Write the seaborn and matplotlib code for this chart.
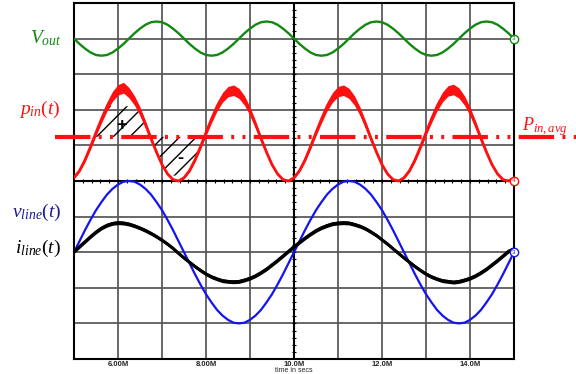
import numpy as np
import pandas as pd
import matplotlib
matplotlib.use('Agg')
import matplotlib.pyplot as plt
import seaborn as sns

sns.set_style('white')
plt.rcParams['font.family'] = ['Liberation Sans', 'DejaVu Sans']
plt.rcParams['mathtext.fontset'] = 'custom'
plt.rcParams['mathtext.rm'] = 'Liberation Serif'
plt.rcParams['mathtext.it'] = 'Liberation Serif:italic'
plt.rcParams['hatch.linewidth'] = 1.0

# ---------------- data (grid units, time in M) ----------------
time_M = np.linspace(5.0, 15.0, 81)

vout = [9.00, 8.85, 8.72, 8.61, 8.54, 8.52, 8.54, 8.61, 8.72, 8.85,
        9.00, 9.15, 9.28, 9.39, 9.46, 9.48, 9.46, 9.39, 9.28, 9.15,
        9.00, 8.85, 8.72, 8.61, 8.54, 8.52, 8.54, 8.61, 8.72, 8.85,
        9.00, 9.15, 9.28, 9.39, 9.46, 9.48, 9.46, 9.39, 9.28, 9.15,
        9.00, 8.85, 8.72, 8.61, 8.54, 8.52, 8.54, 8.61, 8.72, 8.85,
        9.00, 9.15, 9.28, 9.39, 9.46, 9.48, 9.46, 9.39, 9.28, 9.15,
        9.00, 8.85, 8.72, 8.61, 8.54, 8.52, 8.54, 8.61, 8.72, 8.85,
        9.00, 9.15, 9.28, 9.39, 9.46, 9.48, 9.46, 9.39, 9.28, 9.15,
        9.00]

pin = [5.09, 5.29, 5.59, 5.96, 6.36, 6.74, 7.09, 7.38, 7.56, 7.62,
       7.48, 7.26, 6.96, 6.59, 6.19, 5.81, 5.46, 5.20, 5.04, 5.00,
       5.09, 5.29, 5.59, 5.96, 6.36, 6.74, 7.09, 7.35, 7.51, 7.55,
       7.46, 7.26, 6.96, 6.59, 6.19, 5.81, 5.46, 5.20, 5.04, 5.00,
       5.09, 5.29, 5.59, 5.96, 6.36, 6.74, 7.09, 7.35, 7.51, 7.55,
       7.46, 7.26, 6.96, 6.59, 6.19, 5.81, 5.46, 5.20, 5.04, 5.00,
       5.09, 5.29, 5.59, 5.96, 6.36, 6.74, 7.09, 7.36, 7.53, 7.57,
       7.47, 7.26, 6.96, 6.59, 6.19, 5.81, 5.46, 5.20, 5.04, 5.00,
       5.09]

vline = [3.00, 3.31, 3.62, 3.91, 4.18, 4.41, 4.62, 4.78, 4.90, 4.98,
         5.00, 4.98, 4.90, 4.78, 4.62, 4.41, 4.18, 3.91, 3.62, 3.31,
         3.00, 2.69, 2.38, 2.09, 1.82, 1.59, 1.38, 1.22, 1.10, 1.02,
         1.00, 1.02, 1.10, 1.22, 1.38, 1.59, 1.82, 2.09, 2.38, 2.69,
         3.00, 3.31, 3.62, 3.91, 4.18, 4.41, 4.62, 4.78, 4.90, 4.98,
         5.00, 4.98, 4.90, 4.78, 4.62, 4.41, 4.18, 3.91, 3.62, 3.31,
         3.00, 2.69, 2.38, 2.09, 1.82, 1.59, 1.38, 1.22, 1.10, 1.02,
         1.00, 1.02, 1.10, 1.22, 1.38, 1.59, 1.82, 2.09, 2.38, 2.69,
         3.00]

iline = [3.02, 3.16, 3.30, 3.44, 3.57, 3.68, 3.76, 3.81, 3.83, 3.82,
         3.79, 3.74, 3.68, 3.61, 3.53, 3.44, 3.34, 3.23, 3.11, 2.97,
         2.84, 2.72, 2.60, 2.49, 2.39, 2.31, 2.25, 2.20, 2.18, 2.17,
         2.18, 2.22, 2.27, 2.34, 2.43, 2.53, 2.65, 2.77, 2.90, 3.03,
         3.16, 3.28, 3.40, 3.51, 3.61, 3.69, 3.75, 3.80, 3.82, 3.83,
         3.82, 3.78, 3.73, 3.66, 3.57, 3.47, 3.35, 3.23, 3.10, 2.97,
         2.84, 2.72, 2.60, 2.49, 2.39, 2.31, 2.25, 2.20, 2.18, 2.16,
         2.18, 2.22, 2.27, 2.34, 2.43, 2.53, 2.65, 2.77, 2.90, 3.03,
         3.10]

pin_avg = 6.24
tick_pos = [6, 8, 10, 12, 14]
tick_labels = ['6.00M', '8.00M', '10.0M', '12.0M', '14.0M']

df = pd.DataFrame({'t': time_M, 'vout': vout, 'pin': pin,
                   'vline': vline, 'iline': iline})

GREEN = '#118811'
RED = '#ff1010'
BLUE = '#1414ee'
NAVY = '#1a1a9a'

# ---------------- figure ----------------
fig = plt.figure(figsize=(5.76, 3.74), dpi=100)
ax = fig.add_axes([74/576, 1-359/374, 440/576, 356/374])
ax.set_xlim(5, 15)
ax.set_ylim(0, 10)

# grid
for gx in range(6, 15):
    if gx != 10:
        ax.axvline(gx, color='#555555', lw=1.25, zorder=0.5)
for gy in range(1, 10):
    if gy != 5:
        ax.axhline(gy, color='#555555', lw=1.25, zorder=0.5)
ax.axvline(10, color='black', lw=1.5, zorder=0.6)
ax.axhline(5, color='black', lw=1.5, zorder=0.6)
yt = np.arange(0.2, 10, 0.2)
ax.hlines(yt, 10 - 0.05, 10 + 0.05, color='black', lw=0.8, zorder=0.6)
xt = np.arange(5.2, 15, 0.2)
ax.vlines(xt, 5 - 0.06, 5 + 0.06, color='black', lw=0.8, zorder=0.6)

for s in ax.spines.values():
    s.set_color('black')
    s.set_linewidth(1.5)

# hatched areas
t = df['t'].values
p = df['pin'].values
ax.fill_between(t, pin_avg, np.minimum(p, 7.1),
                where=(t >= 5.4) & (t <= 6.9) & (p >= pin_avg),
                interpolate=True, facecolor='none', edgecolor='black',
                hatch='//', linewidth=0, zorder=1.5)
ax.fill_between(t, np.maximum(p, 5.15), pin_avg,
                where=(t >= 6.6) & (t <= 8.0) & (p <= pin_avg),
                interpolate=True, facecolor='none', edgecolor='black',
                hatch='//', linewidth=0, zorder=1.5)

# curves
sns.lineplot(data=df, x='t', y='vout', ax=ax, color=GREEN, lw=1.7,
             estimator=None, sort=False, zorder=3)
band_p = 0.02 + 0.05 * (p - 5)
ax.fill_between(t, p - band_p, p + band_p, color=RED, lw=0, zorder=3)
sns.lineplot(data=df, x='t', y='pin', ax=ax, color=RED, lw=2.0,
             estimator=None, sort=False, zorder=3)
sns.lineplot(data=df, x='t', y='vline', ax=ax, color=BLUE, lw=1.6,
             estimator=None, sort=False, zorder=3)
il = df['iline'].values
ax.fill_between(t, il - 0.055, il + 0.055, color='black', lw=0, zorder=3.1)
sns.lineplot(data=df, x='t', y='iline', ax=ax, color='black', lw=2.0,
             estimator=None, sort=False, zorder=3.1)

# average power line (extends outside the axes)
ax.plot([4.57, 16.5], [pin_avg, pin_avg], color=RED, lw=3.0,
        linestyle=(0, (8.5, 2, 0.7, 2, 0.7, 2)), clip_on=False, zorder=4)

ax.text(6.09, 6.57, '+', fontsize=13, fontweight='bold', color='black',
        ha='center', va='center', zorder=5)
ax.text(7.42, 5.62, '-', fontsize=13, fontweight='bold', color='black',
        ha='center', va='center', zorder=5)

# end markers
for yv, col, lab in [(9, GREEN, '3'), (5, RED, '4'), (3, BLUE, '3')]:
    ax.plot([15], [yv], marker='o', ms=6, mfc='white', mec=col, mew=1.0,
            clip_on=False, zorder=6)
    ax.text(15, yv, lab, fontsize=4.5, color=col, ha='center', va='center',
            zorder=7, clip_on=False)

# axis labels / ticks
ax.set_xticks(tick_pos)
ax.set_xticklabels(tick_labels, fontsize=5.5, fontweight='bold')
ax.tick_params(axis='x', length=0, pad=1.5)
ax.set_yticks([])
ax.set_xlabel('time in secs', fontsize=5, labelpad=-0.5)
ax.set_ylabel('')

# side labels
def ftext(xp, yp, s, col, ha='right', size=13):
    fig.text(xp/576, 1 - yp/374, s, color=col, ha=ha, va='center',
             fontsize=size)

ftext(62, 38, r'$V_{out}$', GREEN, size=14)
ftext(61, 109, r'$p_{in}(t)$', RED, size=14)
ftext(61, 212, r'$v_{line}(t)$', NAVY, size=14)
ftext(61, 248, r'$i_{line}(t)$', 'black', size=14)
ftext(522, 127, r'$P_{in,avg}$', RED, ha='left', size=13)

fig.savefig('out.png', dpi=100)
